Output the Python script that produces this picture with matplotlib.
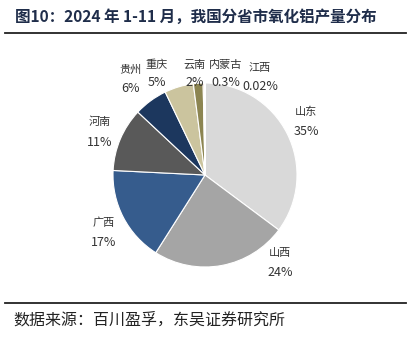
import matplotlib
matplotlib.use("Agg")
import matplotlib.pyplot as plt
from matplotlib.lines import Line2D

plt.rcParams['font.family'] = ['Noto Sans CJK SC', 'DejaVu Sans']

# data
provinces = ["山东", "山西", "广西", "河南", "贵州", "重庆", "云南", "内蒙古", "江西"]
shares = [35.2, 23.8, 16.8, 11.2, 5.9, 5.1, 1.7, 0.3, 0.02]
share_labels = ["35%", "24%", "17%", "11%", "6%", "5%", "2%", "0.3%", "0.02%"]
colors = ["#D9D9D9", "#A5A5A5", "#365C8D", "#595959", "#1C375E",
          "#CBC49E", "#8C8551", "#E9B08F", "#F3D9CF"]

W, H = 416, 340
fig = plt.figure(figsize=(W / 100, H / 100), dpi=100)

def fx(px):
    return px / W

def fy(py):
    return 1 - py / H

# pie axes: center (205,175), radius 92 px
cx, cy, r = 205, 175, 92
ax = fig.add_axes([fx(cx - r), fy(cy + r), 2 * r / W, 2 * r / H])
ax.pie(shares, colors=colors, startangle=90, counterclock=False, radius=1,
       wedgeprops=dict(edgecolor="white", linewidth=0.8))
ax.set_xlim(-1, 1)
ax.set_ylim(-1, 1)
ax.set_aspect("auto")
ax.axis("off")

# label positions in pixels (x center, name y, pct y)
label_pos = {
    "山东": (306, 112, 132),
    "山西": (280, 253, 273),
    "广西": (104, 223, 243),
    "河南": (100, 122, 142),
    "贵州": (130, 70, 88),
    "重庆": (157, 65, 82),
    "云南": (195, 65, 82),
    "内蒙古": (226, 65, 82),
    "江西": (260, 68, 87),
}
for name, pct in zip(provinces, share_labels):
    x, y1, y2 = label_pos[name]
    fig.text(fx(x), fy(y1), name, ha="center", va="center", fontsize=8, color="#333333")
    fig.text(fx(x), fy(y2), pct, ha="center", va="center", fontsize=9, color="#333333")

# title
fig.text(fx(15), fy(17), "图10：2024 年 1-11 月，我国分省市氧化铝产量分布",
         ha="left", va="center", fontsize=11.2, fontweight="bold", color="#1F2D4A")
fig.add_artist(Line2D([fx(5), fx(406)], [fy(33), fy(33)], color="#222222", linewidth=1.3))
fig.add_artist(Line2D([fx(5), fx(406)], [fy(303), fy(303)], color="#222222", linewidth=1.3))
fig.text(fx(13), fy(320), "数据来源：百川盈孚，东吴证券研究所",
         ha="left", va="center", fontsize=11.5, color="#222222")

fig.savefig("out.png", dpi=100, facecolor="white")
